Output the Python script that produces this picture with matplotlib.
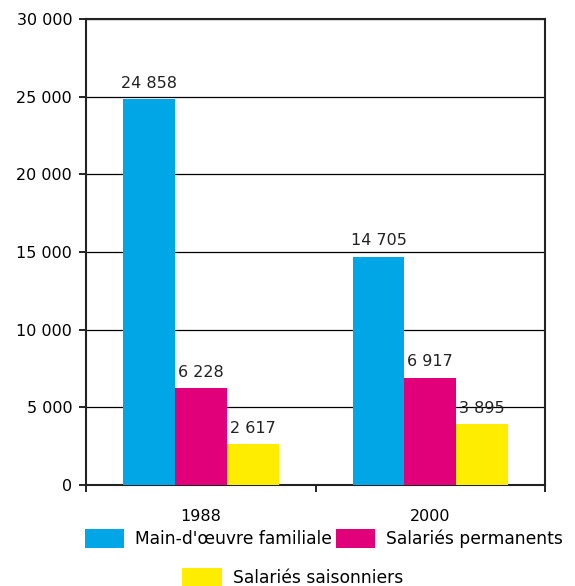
import numpy as np
import matplotlib
matplotlib.use('Agg')
import matplotlib.pyplot as plt
from matplotlib.ticker import FuncFormatter

years = ["1988", "2000"]
series = ["Main-d'œuvre familiale", "Salariés permanents", "Salariés saisonniers"]
familiale = [24858, 14705]
permanents = [6228, 6917]
saisonniers = [2617, 3895]
colors = ["#00A6E6", "#E2007A", "#FFED00"]


def fmt_space(v):
    return "{:,.0f}".format(v).replace(",", " ")


plt.rcParams['font.family'] = ['DejaVu Sans']
plt.rcParams['font.size'] = 11.5

fig = plt.figure(figsize=(5.75, 5.86), dpi=100)
ax = fig.add_axes([0.1496, 0.1724, 0.7985, 0.7952])

x = np.arange(len(years))
width = 0.226
bars = []
for i, (vals, col) in enumerate(zip([familiale, permanents, saisonniers], colors)):
    b = ax.bar(x + (i - 1) * width, vals, width, color=col, label=series[i], zorder=3)
    bars.append(b)
    for xi, v in zip(x + (i - 1) * width, vals):
        ax.annotate(fmt_space(v), (xi, v), xytext=(0, 6), textcoords="offset points",
                    ha="center", va="bottom", fontsize=11.5, color="#222222", zorder=4)

ax.set_xlim(-0.5, 1.5)
ax.set_ylim(0, 30000)
ax.set_yticks(np.arange(0, 30001, 5000))
ax.yaxis.set_major_formatter(FuncFormatter(lambda v, p: fmt_space(v)))
ax.yaxis.grid(True, color="black", linewidth=0.9, zorder=0)

ax.set_xticks([-0.5, 0.5, 1.5])
ax.set_xticklabels([])
ax.set_xticks(x, minor=True)
ax.set_xticklabels(years, minor=True)
ax.tick_params(axis="x", which="minor", length=0, pad=17)
ax.tick_params(axis="both", which="major", length=5, width=1.2, direction="out")
ax.tick_params(axis="y", pad=5)

for s in ax.spines.values():
    s.set_linewidth(1.5)
    s.set_color("#222222")

legend_kw = dict(frameon=False, fontsize=12.3, handlelength=2.3, handleheight=1.35,
                 handletextpad=0.65, borderaxespad=0, borderpad=0, loc="center left")
leg1 = fig.legend(handles=[bars[0], bars[1]], labels=series[:2], ncol=2,
                  bbox_to_anchor=(0.148, 0.081), columnspacing=0.2, **legend_kw)
leg2 = fig.legend(handles=[bars[2]], labels=series[2:],
                  bbox_to_anchor=(0.317, 0.015), **legend_kw)

fig.savefig("out.png", dpi=100)
